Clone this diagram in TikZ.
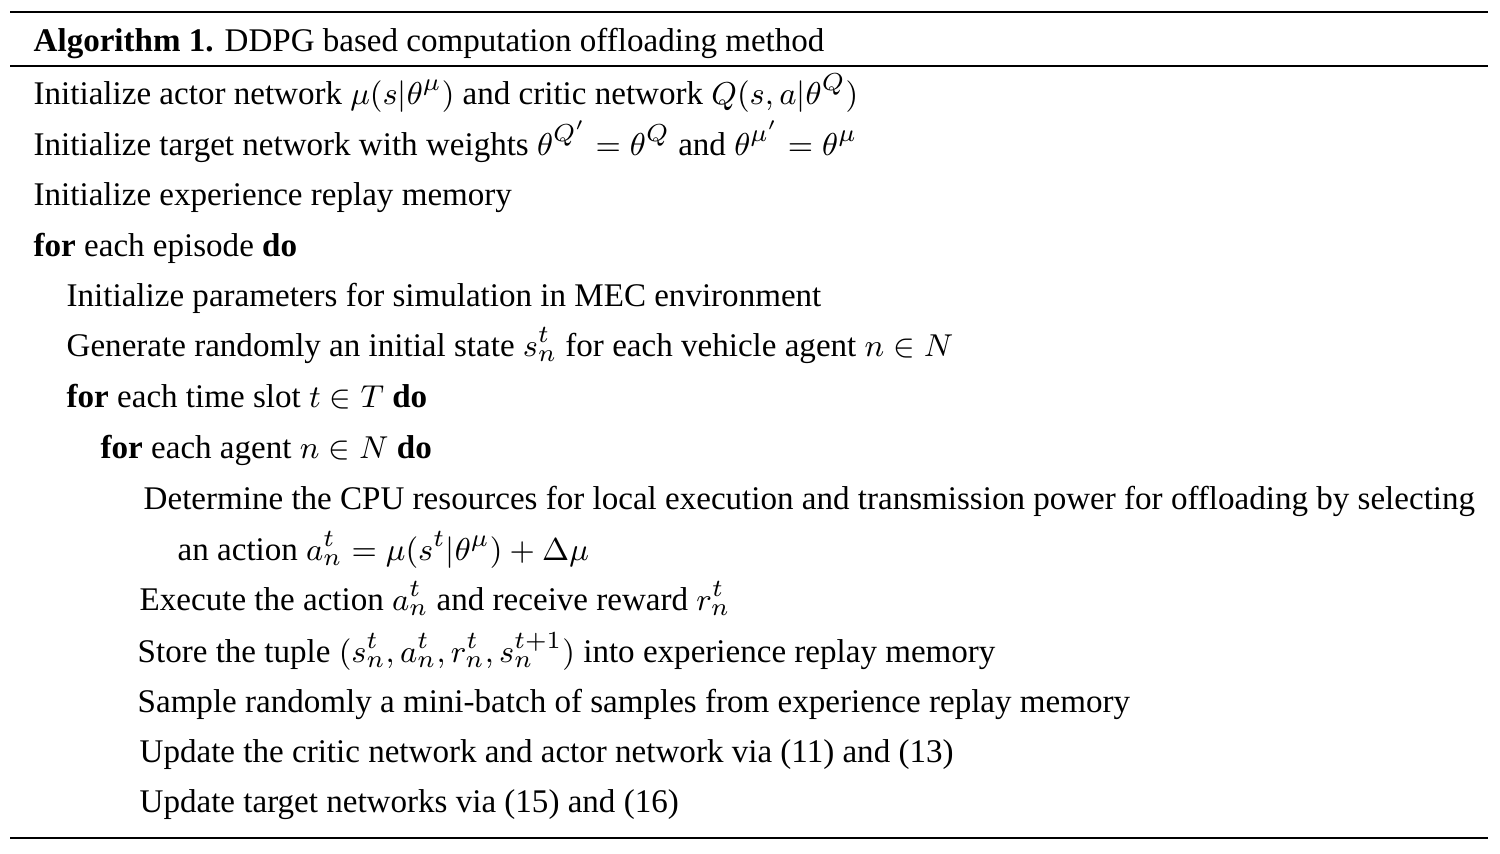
\documentclass[tikz,border=0pt]{standalone}
\usepackage{amssymb, amsmath}
\usepackage{fontspec}
\setmainfont{Liberation Serif}
\usepackage{tikz}

\begin{document}
\fontsize{9.4}{11}\selectfont
\begin{tikzpicture}[x=0.01cm, y=-0.01cm,
  algline/.style={anchor=base west, inner sep=0pt, text height=2.1ex, text depth=0.6ex},
  rule/.style={line width=0.45pt}]
  \useasboundingbox (0, 0) rectangle (1500, 853);

  % rules of the box
  \draw[rule] (10, 12) -- (1488, 12);
  \draw[rule] (10, 66) -- (1488, 66);
  \draw[rule] (10, 838) -- (1488, 838);

  \node[algline] (title) at (33, 51) {\textbf{Algorithm 1.} DDPG based computation offloading method};

  \node[algline] (initnet) at (33, 104) {Initialize actor network $\mu(s|\theta^{\mu})$ and critic network $Q(s,a|\theta^{Q})$};
  \node[algline] (inittgt) at (33, 155) {Initialize target network with weights $\theta^{Q'}=\theta^{Q}$ and $\theta^{\mu'}=\theta^{\mu}$};
  \node[algline] (initmem) at (33, 205) {Initialize experience replay memory};
  \node[algline] (episode) at (33, 256) {\textbf{for} each episode \textbf{do}};

  \node[algline] (initsim) at (66, 306) {Initialize parameters for simulation in MEC environment};
  \node[algline] (genstate) at (66, 356) {Generate randomly an initial state $s_n^t$ for each vehicle agent $n\in N$};
  \node[algline] (slot) at (66, 407) {\textbf{for} each time slot $t\in T$ \textbf{do}};

  \node[algline] (agent) at (100, 458) {\textbf{for} each agent $n\in N$ \textbf{do}};

  \node[algline] (choose) at (143, 509) {Determine the CPU resources for local execution and transmission power for offloading by selecting};
  \node[algline] (choose2) at (177, 560) {an action $a_n^t=\mu(s^t|\theta^{\mu})+\Delta\mu$};
  \node[algline] (exec) at (139, 610) {Execute the action $a_n^t$ and receive reward $r_n^t$};
  \node[algline] (store) at (137, 662) {Store the tuple $(s_n^t,a_n^t,r_n^t,s_n^{t+1})$ into experience replay memory};
  \node[algline] (sample) at (137, 712) {Sample randomly a mini-batch of samples from experience replay memory};
  \node[algline] (updnet) at (139, 762) {Update the critic network and actor network via (11) and (13)};
  \node[algline] (updtgt) at (139, 812) {Update target networks via (15) and (16)};

\end{tikzpicture}
\end{document}
